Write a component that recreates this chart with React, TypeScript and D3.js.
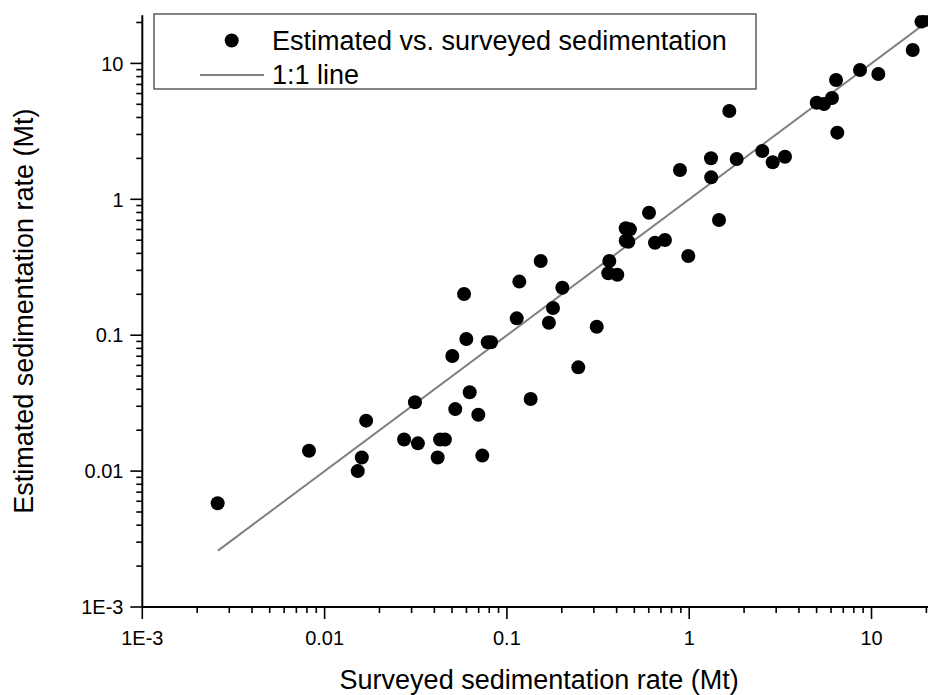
import React from "react";
import * as d3 from "d3";

const surveyed = [
  0.00259, 0.00821, 0.0152, 0.016, 0.0169, 0.0273, 0.0313, 0.0325, 0.0417, 0.043,
  0.0457, 0.0502, 0.0521, 0.0582, 0.0599, 0.0625, 0.0697, 0.0733, 0.0785, 0.0818,
  0.1132, 0.117, 0.135, 0.1532, 0.17, 0.179, 0.2014, 0.2464, 0.311, 0.36,
  0.3645, 0.4034, 0.4484, 0.473, 0.4484, 0.4636, 0.602, 0.6493, 0.7363, 0.89,
  0.9886, 1.317, 1.32, 1.457, 1.66, 1.822, 2.518, 2.871, 3.354, 5.005,
  5.49, 6.07, 6.39, 6.494, 8.65, 10.9, 16.83, 18.8, 20.2,
];
const estimated = [
  0.0058, 0.0141, 0.01, 0.0126, 0.0235, 0.0171, 0.0321, 0.016, 0.0126, 0.0171,
  0.0171, 0.0703, 0.0286, 0.201, 0.0938, 0.038, 0.026, 0.013, 0.0887, 0.0887,
  0.133, 0.248, 0.0339, 0.3515, 0.1236, 0.1585, 0.2236, 0.058, 0.1155, 0.2854,
  0.3515, 0.2787, 0.6116, 0.601, 0.4958, 0.4875, 0.797, 0.479, 0.5017, 1.643,
  0.3826, 2.003, 1.451, 0.704, 4.466, 1.98, 2.266, 1.872, 2.058, 5.14,
  5.03, 5.565, 7.55, 3.093, 8.94, 8.36, 12.55, 20.3, 21.0,
];

const majorTicks = [0.001, 0.01, 0.1, 1, 10];
const majorLabels = ["1E-3", "0.01", "0.1", "1", "10"];
const lineRange = [0.0026, 22.6];
const domainRange = [0.001, 22.6];

const legendLabels = ["Estimated vs. surveyed sedimentation", "1:1 line"];
const xTitle = "Surveyed sedimentation rate (Mt)";
const yTitle = "Estimated sedimentation rate (Mt)";

const W = 928;
const H = 695;
const left = 142.3;
const bottom = 607;
const decX = 182.3;
const decY = 135.9;
const FONT = "'Liberation Sans', Arial, Helvetica, sans-serif";

export default function App() {
  const nDec = Math.log10(domainRange[1] / domainRange[0]);
  const x = d3.scaleLog().domain(domainRange).range([left, left + decX * nDec]);
  const y = d3.scaleLog().domain(domainRange).range([bottom, bottom - decY * nDec]);
  const [x0, x1] = x.range();
  const [y0, y1] = y.range();
  const allTicks = x.ticks();
  const isMajor = (t: number) => majorTicks.some((m) => Math.abs(m - t) / m < 1e-6);
  const majorLen = 12;
  const minorLen = 6;

  return (
    <svg
      width={W}
      height={H}
      style={{ position: "absolute", left: 0, top: 0, background: "#fff" }}
      fontFamily={FONT}
    >
      <defs>
        <clipPath id="plotclip">
          <rect x={x0} y={y1} width={x1 - x0} height={y0 - y1} />
        </clipPath>
      </defs>
      <rect x={0} y={0} width={W} height={H} fill="#fff" />

      {/* 1:1 line */}
      <g clipPath="url(#plotclip)">
        <line
          x1={x(lineRange[0])}
          y1={y(lineRange[0])}
          x2={x(lineRange[1])}
          y2={y(lineRange[1])}
          stroke="#808080"
          strokeWidth={2}
        />
        {surveyed.map((s, i) => (
          <circle key={i} cx={x(s)} cy={y(estimated[i])} r={7} fill="#000" />
        ))}
      </g>

      {/* X axis */}
      <line x1={x0} y1={y0} x2={x1} y2={y0} stroke="#000" strokeWidth={2} />
      {allTicks.map((t, i) => (
        <line
          key={"xt" + i}
          x1={x(t)}
          x2={x(t)}
          y1={y0}
          y2={y0 + (isMajor(t) ? majorLen : minorLen)}
          stroke="#000"
          strokeWidth={1.6}
        />
      ))}
      {majorTicks.map((t, i) => (
        <text key={"xl" + i} x={x(t)} y={644.5} fontSize={20} textAnchor="middle" fill="#000">
          {majorLabels[i]}
        </text>
      ))}

      {/* Y axis */}
      <line x1={x0} y1={y0} x2={x0} y2={y1} stroke="#000" strokeWidth={2} />
      {y.ticks().map((t, i) => (
        <line
          key={"yt" + i}
          x1={x0}
          x2={x0 - (isMajor(t) ? majorLen : minorLen)}
          y1={y(t)}
          y2={y(t)}
          stroke="#000"
          strokeWidth={1.6}
        />
      ))}
      {majorTicks.map((t, i) => (
        <text
          key={"yl" + i}
          x={123.5}
          y={y(t)}
          dy="0.36em"
          fontSize={20}
          textAnchor="end"
          fill="#000"
        >
          {majorLabels[i]}
        </text>
      ))}

      {/* Titles */}
      <text x={(x0 + x1) / 2} y={689} fontSize={27} textAnchor="middle" fill="#000">
        {xTitle}
      </text>
      <text
        transform={`translate(33,${(y0 + y1) / 2}) rotate(-90)`}
        fontSize={27}
        textAnchor="middle"
        fill="#000"
      >
        {yTitle}
      </text>

      {/* Legend */}
      <rect x={154} y={14} width={602} height={75} fill="#fff" stroke="#444" strokeWidth={1.3} />
      <circle cx={231.7} cy={40.5} r={7} fill="#000" />
      <text x={272} y={50} fontSize={27} fill="#000">
        {legendLabels[0]}
      </text>
      <line x1={200} x2={264} y1={75} y2={75} stroke="#808080" strokeWidth={2} />
      <text x={272} y={84} fontSize={27} fill="#000">
        {legendLabels[1]}
      </text>
    </svg>
  );
}
